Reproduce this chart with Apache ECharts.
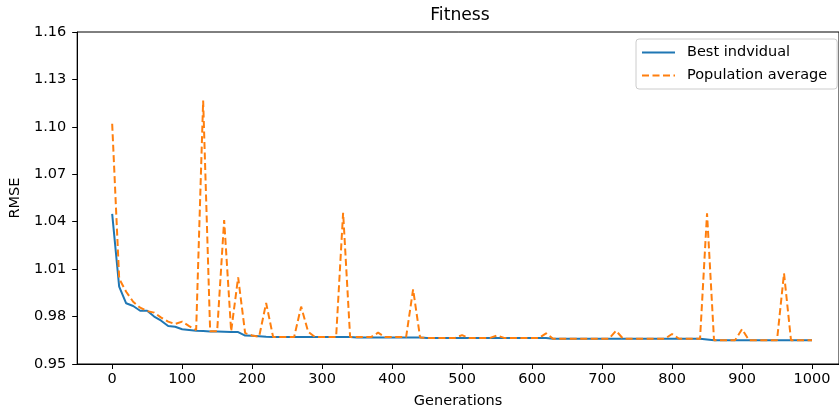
<!DOCTYPE html>
<html>
<head>
<meta charset="utf-8">
<script src="https://cdn.jsdelivr.net/npm/echarts@6/dist/echarts.min.js"></script>
<style>
html,body{margin:0;padding:0;background:#fff;}
#chart{width:839px;height:414px;}
</style>
</head>
<body>
<div id="chart"></div>
<script>
var generations = [0,10,20,30,40,50,60,70,80,90,100,110,120,130,140,150,160,170,180,190,200,210,220,230,240,250,260,270,280,290,300,310,320,330,340,350,360,370,380,390,400,410,420,430,440,450,460,470,480,490,500,510,520,530,540,550,560,570,580,590,600,610,620,630,640,650,660,670,680,690,700,710,720,730,740,750,760,770,780,790,800,810,820,830,840,850,860,870,880,890,900,910,920,930,940,950,960,970,980,990,1000];

var bestIndividual = [
1.045,0.999,0.9884,0.9867,0.9837,0.9837,0.980,0.9774,0.974,0.9736,
0.972,0.9715,0.971,0.9708,0.9706,0.9705,0.9704,0.9703,0.9702,0.968,
0.9678,0.9675,0.9672,0.967,0.967,0.967,0.967,0.967,0.967,0.967,
0.967,0.967,0.967,0.967,0.967,0.9668,0.9668,0.9668,0.9668,0.9668,
0.9668,0.9668,0.9668,0.9668,0.9668,0.9665,0.9665,0.9665,0.9665,0.9665,
0.9665,0.9665,0.9665,0.9665,0.9665,0.9665,0.9665,0.9665,0.9665,0.9665,
0.9665,0.9665,0.9665,0.966,0.966,0.966,0.966,0.966,0.966,0.966,
0.966,0.966,0.966,0.966,0.966,0.966,0.966,0.966,0.966,0.966,
0.966,0.966,0.966,0.966,0.966,0.9655,0.965,0.965,0.965,0.965,
0.965,0.965,0.965,0.965,0.965,0.965,0.965,0.965,0.965,0.965,
0.965];

var populationAverage = [
1.102,1.004,0.9957,0.9894,0.9856,0.9835,0.9825,0.9793,0.9768,0.9753,
0.9768,0.974,0.9715,1.1166,0.9707,0.9707,1.041,0.9707,1.0048,0.9695,
0.968,0.9673,0.9886,0.967,0.967,0.967,0.967,0.9863,0.9704,0.967,
0.967,0.967,0.967,1.0457,0.967,0.967,0.967,0.967,0.9698,0.967,
0.967,0.967,0.967,0.9972,0.9668,0.9665,0.9665,0.9665,0.9665,0.9665,
0.9683,0.9664,0.9665,0.9665,0.9665,0.968,0.9665,0.9665,0.9665,0.9665,
0.9665,0.9665,0.9694,0.966,0.966,0.966,0.966,0.966,0.966,0.966,
0.966,0.966,0.971,0.966,0.966,0.966,0.966,0.966,0.966,0.966,
0.969,0.966,0.966,0.966,0.966,1.0453,0.965,0.965,0.965,0.965,
0.972,0.965,0.965,0.965,0.965,0.965,1.0074,0.965,0.965,0.965,
0.965];

var xTicks = [0,100,200,300,400,500,600,700,800,900,1000];
var yTicks = [0.95,0.98,1.01,1.04,1.07,1.10,1.13,1.16];

var seriesNames = ['Best indvidual', 'Population average'];

function pairs(xs, ys){ return xs.map(function(x,i){ return [x, ys[i]]; }); }

var FONT = 'DejaVu Sans';
var chart = echarts.init(document.getElementById('chart'), null, {renderer:'canvas'});
chart.setOption({
  animation: false,
  backgroundColor: '#fff',
  title: {
    text: 'Fitness',
    left: 460, top: 7, textAlign: 'center', padding: 0,
    textStyle: {fontFamily: FONT, fontSize: 17.2, fontWeight: 'normal', color: '#000'}
  },
  legend: {
    orient: 'vertical',
    left: 636, top: 39,
    itemWidth: 33, itemHeight: 14, itemGap: 8,
    padding: [6, 10, 6, 5],
    borderColor: '#cccccc', borderWidth: 1, borderRadius: 3,
    backgroundColor: 'rgba(255,255,255,0.8)',
    itemStyle: {opacity: 0, borderWidth: 0},
    textStyle: {fontFamily: FONT, fontSize: 14.5, color: '#000', padding: [0,0,0,7]},
    data: seriesNames
  },
  grid: {
    left: 77, top: 32, width: 762, height: 332,
    show: true, borderColor: '#000', borderWidth: 1, containLabel: false
  },
  xAxis: {
    type: 'value', min: -50, max: 1038.57,
    name: 'Generations', nameLocation: 'middle', nameGap: 30,
    nameTextStyle: {fontFamily: FONT, fontSize: 14.5, color: '#000', padding: [0, 0, 0, 0]},
    axisLine: {show: true, onZero: false, lineStyle: {color: '#000', width: 1}},
    axisTick: {show: true, length: 5, customValues: xTicks, lineStyle: {color: '#000'}},
    axisLabel: {customValues: xTicks, margin: 8, fontFamily: FONT, fontSize: 14.5, color: '#000',
      formatter: function(v){ return String(v); }},
    splitLine: {show: false}
  },
  yAxis: {
    type: 'value', min: 0.95, max: 1.16,
    name: 'RMSE', nameLocation: 'middle', nameGap: 50, nameRotate: 90,
    nameTextStyle: {fontFamily: FONT, fontSize: 14.5, color: '#000'},
    axisLine: {show: true, onZero: false, lineStyle: {color: '#000', width: 1}},
    axisTick: {show: true, length: 5, customValues: yTicks, lineStyle: {color: '#000'}},
    axisLabel: {customValues: yTicks, margin: 11, fontFamily: FONT, fontSize: 14.5, color: '#000',
      formatter: function(v){ return v.toFixed(2); }},
    splitLine: {show: false}
  },
  series: [
    {
      name: seriesNames[0], type: 'line', data: pairs(generations, bestIndividual),
      symbol: 'none', showSymbol: false,
      lineStyle: {color: '#1f77b4', width: 2},
      itemStyle: {color: '#1f77b4'}, z: 2
    },
    {
      name: seriesNames[1], type: 'line', data: pairs(generations, populationAverage),
      symbol: 'none', showSymbol: false,
      lineStyle: {color: '#ff7f0e', width: 2, type: [7, 3.5]},
      itemStyle: {color: '#ff7f0e'}, z: 3
    }
  ]
});
</script>
</body>
</html>
